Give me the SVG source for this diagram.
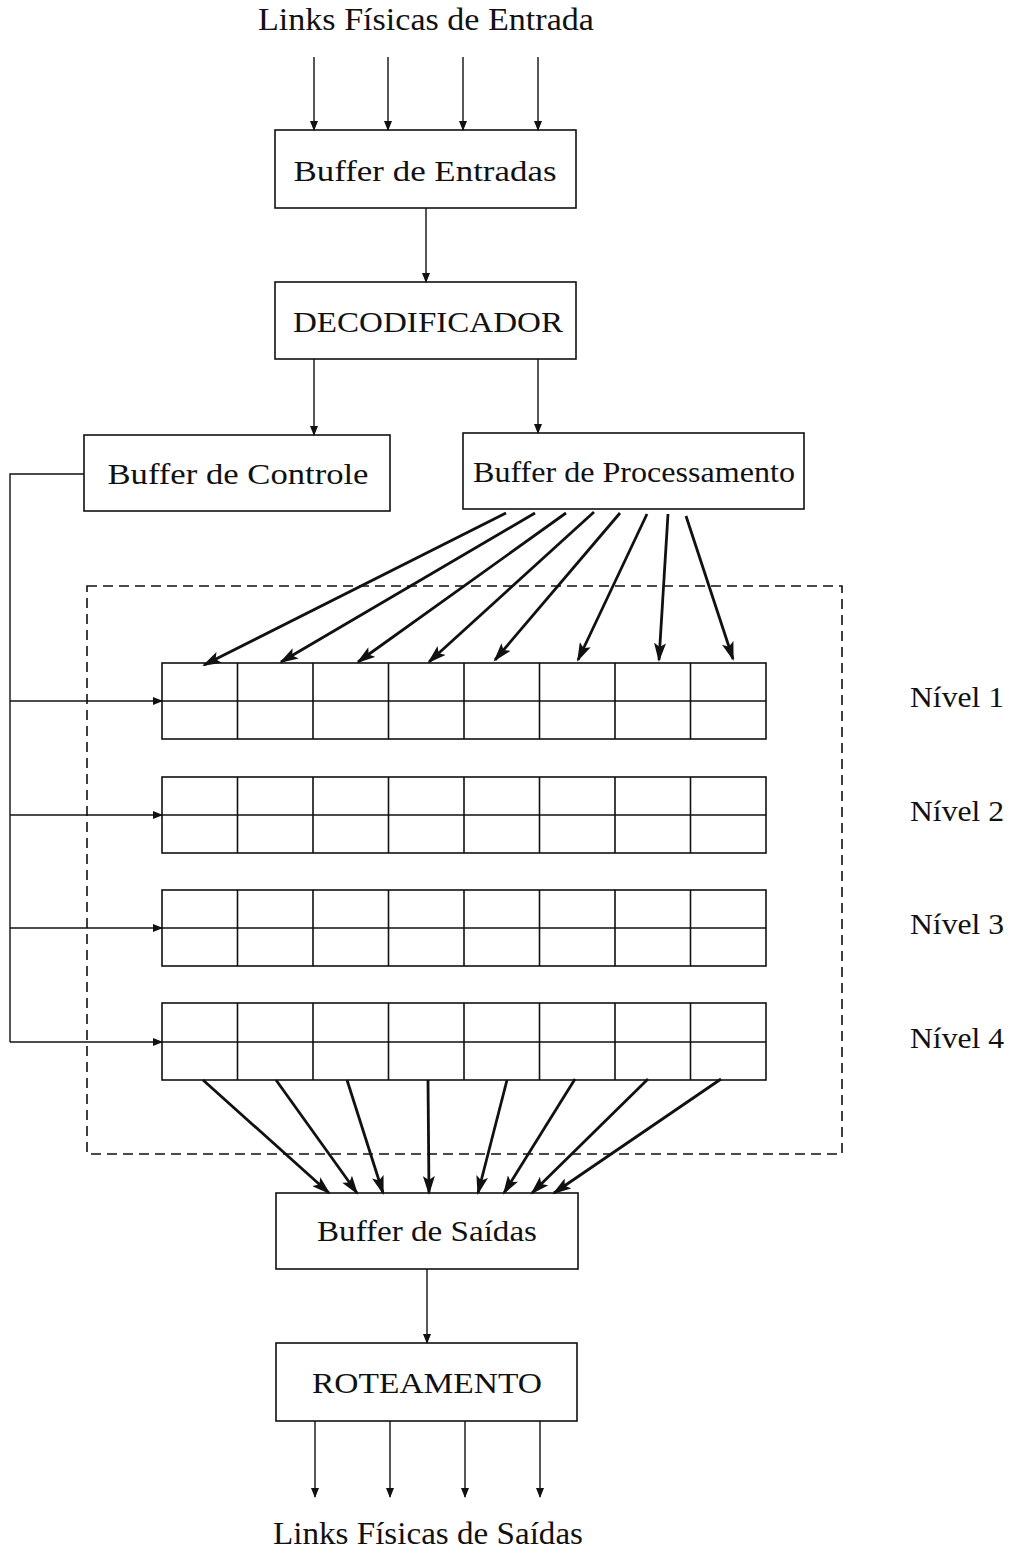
<svg xmlns="http://www.w3.org/2000/svg" width="1025" height="1555" viewBox="0 0 1025 1555">
<style>
text{font-family:"Liberation Serif","DejaVu Serif","Times New Roman",serif;fill:#111;}
.lbl{font-size:30px;text-anchor:middle;}
.big{font-size:31px;text-anchor:middle;}
.niv{font-size:29px;}
.box{fill:#fff;stroke:#111;stroke-width:1.6;}
.cell{fill:none;stroke:#111;stroke-width:1.6;}
.thin{stroke:#111;stroke-width:1.4;fill:none;}
.thick{stroke:#111;stroke-width:2.8;fill:none;}
.dash{fill:none;stroke:#111;stroke-width:1.6;stroke-dasharray:10,6;}
</style>
<defs>
<marker id="ah" markerUnits="userSpaceOnUse" markerWidth="10" markerHeight="8" refX="9" refY="4" orient="auto">
<path d="M0,0 L10,4 L0,8 z" fill="#111"/>
</marker>
<marker id="ahb" markerUnits="userSpaceOnUse" markerWidth="20" markerHeight="12" refX="17" refY="6" orient="auto">
<path d="M0,0 L19,6 L0,12 L4,6 z" fill="#111"/>
</marker>
</defs>

<text class="big" x="426" y="30" textLength="336" lengthAdjust="spacingAndGlyphs">Links Físicas de Entrada</text>
<text class="big" x="428" y="1544" textLength="310" lengthAdjust="spacingAndGlyphs">Links Físicas de Saídas</text>

<g id="buffer-entradas"><rect class="box" x="275" y="130" width="301" height="78"/><text class="lbl" x="425" y="181" textLength="263" lengthAdjust="spacingAndGlyphs">Buffer de  Entradas</text></g>
<g id="decodificador"><rect class="box" x="275" y="282" width="301" height="77"/><text class="lbl" x="428" y="332" textLength="270" lengthAdjust="spacingAndGlyphs">DECODIFICADOR</text></g>
<g id="buffer-controle"><rect class="box" x="84" y="435" width="306" height="76"/><text class="lbl" x="238" y="484" textLength="261" lengthAdjust="spacingAndGlyphs">Buffer de  Controle</text></g>
<g id="buffer-processamento"><rect class="box" x="463" y="433" width="341" height="76"/><text class="lbl" x="634" y="482" textLength="322" lengthAdjust="spacingAndGlyphs">Buffer de Processamento</text></g>
<g id="buffer-saidas"><rect class="box" x="276" y="1193" width="302" height="76"/><text class="lbl" x="427" y="1241" textLength="220" lengthAdjust="spacingAndGlyphs">Buffer de Saídas</text></g>
<g id="roteamento"><rect class="box" x="276" y="1343" width="301" height="78"/><text class="lbl" x="427" y="1393" textLength="230" lengthAdjust="spacingAndGlyphs">ROTEAMENTO</text></g>

<g id="nucleo">
<rect class="dash" x="87" y="586" width="755" height="568"/>
</g>

<g id="nivel-1">
<rect class="cell" x="162" y="663" width="604" height="76"/>
<path class="cell" d="M162,701 H766 M237.5,663 V739 M313,663 V739 M388.5,663 V739 M464,663 V739 M539.5,663 V739 M615,663 V739 M690.5,663 V739"/>
<text class="niv" x="910" y="707" textLength="94" lengthAdjust="spacingAndGlyphs">Nível 1</text>
</g>
<g id="nivel-2">
<rect class="cell" x="162" y="777" width="604" height="76"/>
<path class="cell" d="M162,815 H766 M237.5,777 V853 M313,777 V853 M388.5,777 V853 M464,777 V853 M539.5,777 V853 M615,777 V853 M690.5,777 V853"/>
<text class="niv" x="910" y="821" textLength="94" lengthAdjust="spacingAndGlyphs">Nível 2</text>
</g>
<g id="nivel-3">
<rect class="cell" x="162" y="890" width="604" height="76"/>
<path class="cell" d="M162,928 H766 M237.5,890 V966 M313,890 V966 M388.5,890 V966 M464,890 V966 M539.5,890 V966 M615,890 V966 M690.5,890 V966"/>
<text class="niv" x="910" y="934" textLength="94" lengthAdjust="spacingAndGlyphs">Nível 3</text>
</g>
<g id="nivel-4">
<rect class="cell" x="162" y="1003" width="604" height="77"/>
<path class="cell" d="M162,1042 H766 M237.5,1003 V1080 M313,1003 V1080 M388.5,1003 V1080 M464,1003 V1080 M539.5,1003 V1080 M615,1003 V1080 M690.5,1003 V1080"/>
<text class="niv" x="910" y="1048" textLength="94" lengthAdjust="spacingAndGlyphs">Nível 4</text>
</g>

<g id="connectors">
<line class="thin" x1="314" y1="57" x2="314" y2="130" marker-end="url(#ah)"/>
<line class="thin" x1="388" y1="57" x2="388" y2="130" marker-end="url(#ah)"/>
<line class="thin" x1="463" y1="57" x2="463" y2="130" marker-end="url(#ah)"/>
<line class="thin" x1="538" y1="57" x2="538" y2="130" marker-end="url(#ah)"/>
<line class="thin" x1="426" y1="208" x2="426" y2="282" marker-end="url(#ah)"/>
<line class="thin" x1="314" y1="359" x2="314" y2="435" marker-end="url(#ah)"/>
<line class="thin" x1="538" y1="359" x2="538" y2="433" marker-end="url(#ah)"/>
<polyline class="thin" points="84,474 10,474 10,1042"/>
<line class="thin" x1="10" y1="701" x2="162" y2="701" marker-end="url(#ah)"/>
<line class="thin" x1="10" y1="815" x2="162" y2="815" marker-end="url(#ah)"/>
<line class="thin" x1="10" y1="928" x2="162" y2="928" marker-end="url(#ah)"/>
<line class="thin" x1="10" y1="1042" x2="162" y2="1042" marker-end="url(#ah)"/>

<line class="thick" x1="506" y1="513" x2="204" y2="665" marker-end="url(#ahb)"/>
<line class="thick" x1="535" y1="513" x2="281" y2="662" marker-end="url(#ahb)"/>
<line class="thick" x1="566" y1="513" x2="358" y2="662" marker-end="url(#ahb)"/>
<line class="thick" x1="594" y1="512" x2="429" y2="662" marker-end="url(#ahb)"/>
<line class="thick" x1="620" y1="513" x2="495" y2="660" marker-end="url(#ahb)"/>
<line class="thick" x1="647" y1="514" x2="578" y2="660" marker-end="url(#ahb)"/>
<line class="thick" x1="668" y1="514" x2="659" y2="660" marker-end="url(#ahb)"/>
<line class="thick" x1="686" y1="516" x2="733" y2="659" marker-end="url(#ahb)"/>

<line class="thick" x1="203" y1="1080" x2="329" y2="1193" marker-end="url(#ahb)"/>
<line class="thick" x1="276" y1="1080" x2="357" y2="1193" marker-end="url(#ahb)"/>
<line class="thick" x1="347" y1="1080" x2="383" y2="1193" marker-end="url(#ahb)"/>
<line class="thick" x1="428" y1="1080" x2="429" y2="1193" marker-end="url(#ahb)"/>
<line class="thick" x1="507" y1="1080" x2="478" y2="1193" marker-end="url(#ahb)"/>
<line class="thick" x1="575" y1="1079" x2="504" y2="1193" marker-end="url(#ahb)"/>
<line class="thick" x1="648" y1="1079" x2="532" y2="1193" marker-end="url(#ahb)"/>
<line class="thick" x1="721" y1="1079" x2="554" y2="1193" marker-end="url(#ahb)"/>

<line class="thin" x1="427" y1="1269" x2="427" y2="1343" marker-end="url(#ah)"/>
<line class="thin" x1="315" y1="1421" x2="315" y2="1497" marker-end="url(#ah)"/>
<line class="thin" x1="390" y1="1421" x2="390" y2="1497" marker-end="url(#ah)"/>
<line class="thin" x1="465" y1="1421" x2="465" y2="1497" marker-end="url(#ah)"/>
<line class="thin" x1="540" y1="1421" x2="540" y2="1497" marker-end="url(#ah)"/>
</g>
</svg>
